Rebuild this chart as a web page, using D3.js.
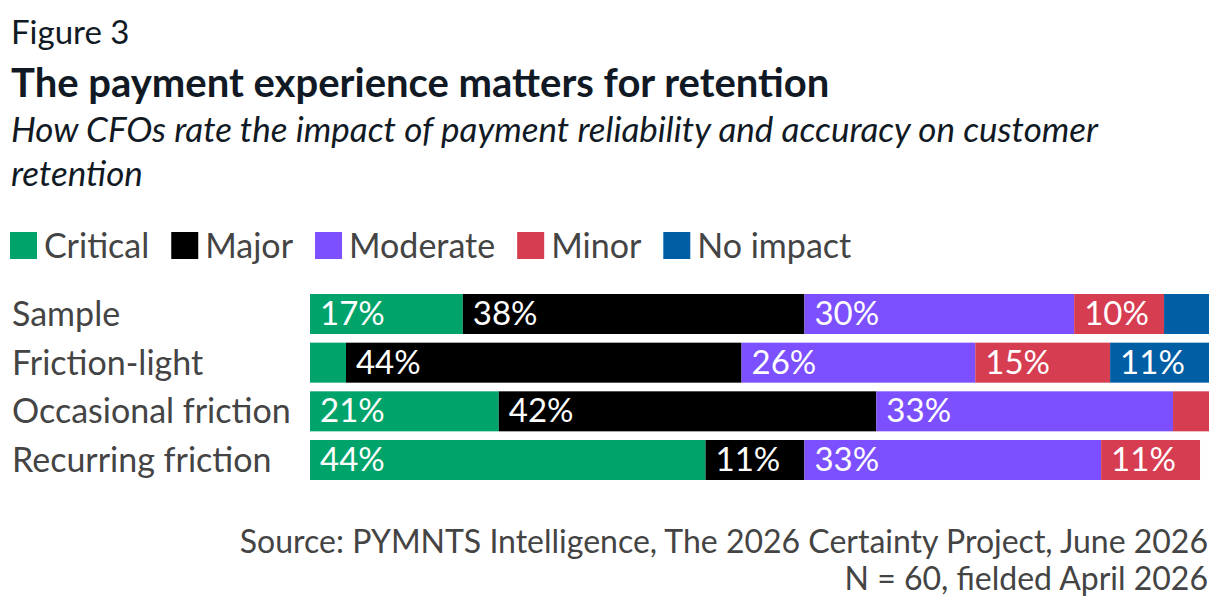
<!DOCTYPE html>
<html>
<head>
<meta charset="utf-8">
<script src="https://cdn.jsdelivr.net/npm/d3@7"></script>
<style>
  html, body { margin: 0; padding: 0; background: #fff; }
  svg { display: block; font-family: Lato, "Noto Sans", sans-serif; }
</style>
</head>
<body>
<svg id="chart" width="1220" height="610"></svg>
<script>
// chart data
var categories = ["Sample", "Friction-light", "Occasional friction", "Recurring friction"];
var seriesNames = ["Critical", "Major", "Moderate", "Minor", "No impact"];
var critical = [17, 4, 21, 44];
var major = [38, 44, 42, 11];
var moderate = [30, 26, 33, 33];
var minor = [10, 15, 4, 11];
var noImpact = [5, 11, 0, 0];
var seriesColors = ["#00a36a", "#000000", "#7c4fff", "#d63d51", "#005ea5"];

var svg = d3.select('#chart');

// header
svg.append('text').attr('x', 11).attr('y', 44)
    .attr('font-size', 33).attr('fill', '#111a24').text('Figure 3');
svg.append('text').attr('x', 11).attr('y', 97)
    .attr('font-size', 40).attr('font-weight', 'bold').attr('fill', '#111a24')
    .text('The payment experience matters for retention');
svg.append('text').attr('x', 11).attr('y', 142)
    .attr('font-size', 35).attr('font-style', 'italic').attr('fill', '#111a24')
    .text('How CFOs rate the impact of payment reliability and accuracy on customer');
svg.append('text').attr('x', 11).attr('y', 186)
    .attr('font-size', 35).attr('font-style', 'italic').attr('fill', '#111a24')
    .text('retention');

// legend
var legend = svg.append('g').attr('class', 'legend');
var lx = 10;
seriesNames.forEach(function (name, i) {
    var g = legend.append('g').attr('transform', 'translate(' + lx + ',0)');
    g.append('rect').attr('x', 0).attr('y', 232).attr('width', 27).attr('height', 27)
        .attr('fill', seriesColors[i]);
    var t = g.append('text').attr('x', 34).attr('y', 258)
        .attr('font-size', 34).attr('fill', '#444').text(name);
    lx += 34 + t.node().getComputedTextLength() + 22;
});

// stacked bars
var rows = categories.map(function (c, i) {
    return { cat: c, Critical: critical[i], Major: major[i], Moderate: moderate[i],
             Minor: minor[i], "No impact": noImpact[i] };
});
var stack = d3.stack().keys(seriesNames)(rows);

var x = d3.scaleLinear().domain([0, 100]).range([310, 1209]);
var y = d3.scaleBand().domain(categories).range([294, 480]).paddingInner(0.178).paddingOuter(0);

svg.append('g').selectAll('text')
    .data(categories)
    .enter()
    .append('text')
    .attr('x', 12)
    .attr('y', function (d) { return y(d) + y.bandwidth() / 2 + 12; })
    .attr('font-size', 34)
    .attr('fill', '#444')
    .text(function (d) { return d; });

var layers = svg.append('g').selectAll('g')
    .data(stack)
    .enter()
    .append('g')
    .attr('fill', function (d, i) { return seriesColors[i]; });

layers.selectAll('rect')
    .data(function (d) { return d; })
    .enter()
    .append('rect')
    .attr('x', function (d) { return x(d[0]); })
    .attr('y', function (d) { return y(d.data.cat); })
    .attr('width', function (d) { return x(d[1]) - x(d[0]); })
    .attr('height', y.bandwidth());

layers.selectAll('text')
    .data(function (d) { return d; })
    .enter()
    .filter(function (d) { return d[1] - d[0] >= 8; })
    .append('text')
    .attr('x', function (d) { return x(d[0]) + 10; })
    .attr('y', function (d) { return y(d.data.cat) + y.bandwidth() / 2 + 11; })
    .attr('font-size', 33)
    .attr('fill', '#fff')
    .text(function (d) { return Math.round(d[1] - d[0]) + '%'; });

// source
svg.append('text').attr('x', 1208).attr('y', 553).attr('text-anchor', 'end')
    .attr('font-size', 32).attr('fill', '#444')
    .text('Source: PYMNTS Intelligence, The 2026 Certainty Project, June 2026');
svg.append('text').attr('x', 1208).attr('y', 590).attr('text-anchor', 'end')
    .attr('font-size', 32).attr('fill', '#444')
    .text('N = 60, fielded April 2026');
</script>
</body>
</html>
